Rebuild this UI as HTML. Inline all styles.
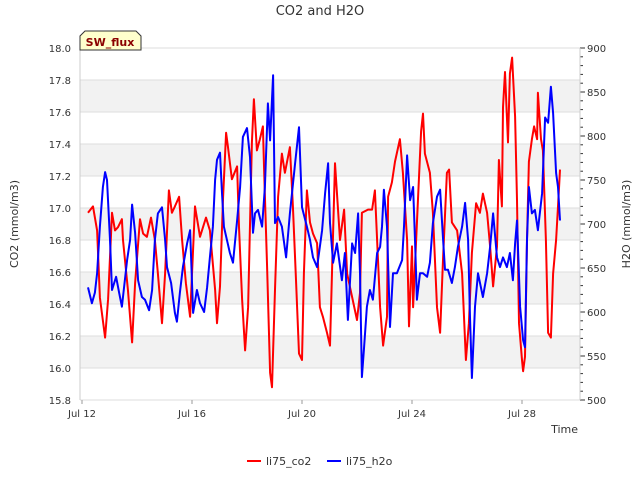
<!DOCTYPE html>
<html><head><meta charset="utf-8"><style>
body{margin:0;background:#fff;font-family:"Liberation Sans","DejaVu Sans",sans-serif;}
svg text{font-family:"DejaVu Sans","Liberation Sans",sans-serif;}
</style></head><body>
<svg id="chart" width="640" height="480" xmlns="http://www.w3.org/2000/svg">
<rect width="640" height="480" fill="#fff"/>
<text x="320" y="15" font-size="13" text-anchor="middle" fill="#333">CO2 and H2O</text>
<g id="bands"></g><g id="grid"></g><g id="axes"></g>
<g id="series" clip-path="url(#clip)"></g>
<defs><clipPath id="clip"><rect x="80" y="48" width="500" height="352"/></clipPath></defs>
<g>
<path d="M80,50 L80,36 L85,31 L136,31 L141,36 L141,50 Z" fill="#ffffcc" stroke="#333" stroke-width="1"/>
<text x="110" y="46" font-size="11" font-weight="bold" text-anchor="middle" fill="#8b0000">SW_flux</text>
</g>
<text transform="translate(18,224) rotate(-90)" font-size="11" text-anchor="middle" fill="#333">CO2 (mmol/m3)</text>
<text transform="translate(630,224) rotate(-90)" font-size="11" text-anchor="middle" fill="#333">H2O (mmol/m3)</text>
<text x="578" y="433" font-size="11" text-anchor="end" fill="#333">Time</text>
<g><line x1="247" y1="461" x2="261" y2="461" stroke="#f00" stroke-width="2"/><text x="266" y="465" font-size="11" fill="#333">li75_co2</text></g>
<g><line x1="327" y1="461" x2="341" y2="461" stroke="#00f" stroke-width="2"/><text x="346" y="465" font-size="11" fill="#333">li75_h2o</text></g>
</svg>
<script>
const xTickLabels=["Jul 12","Jul 16","Jul 20","Jul 24","Jul 28"];
const xTickDays=[0,4,8,12,16];
const leftTicks=[15.8,16.0,16.2,16.4,16.6,16.8,17.0,17.2,17.4,17.6,17.8,18.0];
const rightTicks=[500,550,600,650,700,750,800,850,900];
const co2Days=[0.22,0.40,0.55,0.65,0.84,0.95,1.09,1.20,1.31,1.45,1.49,1.67,1.82,1.93,2.11,2.22,2.36,2.51,2.65,2.76,2.91,3.02,3.16,3.27,3.38,3.53,3.64,3.78,3.93,4.11,4.29,4.51,4.65,4.84,4.91,5.02,5.13,5.24,5.31,5.45,5.64,5.71,5.82,5.93,6.04,6.18,6.25,6.36,6.47,6.58,6.62,6.73,6.84,6.91,7.02,7.13,7.27,7.38,7.56,7.67,7.78,7.89,8.00,8.07,8.18,8.29,8.40,8.55,8.65,8.76,8.91,9.02,9.20,9.38,9.53,9.64,10.00,10.11,10.18,10.40,10.55,10.65,10.84,10.95,11.09,11.13,11.27,11.38,11.56,11.67,11.82,11.89,12.00,12.04,12.22,12.33,12.40,12.47,12.65,12.76,12.91,13.02,13.13,13.27,13.35,13.45,13.64,13.82,13.96,14.07,14.18,14.33,14.47,14.58,14.73,14.84,14.95,15.09,15.16,15.27,15.31,15.38,15.45,15.49,15.56,15.64,15.75,15.82,15.89,16.00,16.04,16.11,16.18,16.25,16.36,16.44,16.55,16.58,16.69,16.76,16.87,16.95,17.05,17.13,17.24,17.31,17.38];
const co2Values=[16.97,17.01,16.86,16.44,16.19,16.43,16.97,16.86,16.88,16.93,16.80,16.49,16.16,16.53,16.93,16.84,16.82,16.94,16.80,16.59,16.28,16.59,17.11,16.97,17.01,17.07,16.80,16.53,16.32,17.01,16.82,16.94,16.86,16.49,16.28,16.51,17.07,17.47,17.38,17.18,17.26,16.88,16.43,16.11,16.38,17.41,17.68,17.36,17.43,17.51,17.24,16.63,15.97,15.88,16.49,17.07,17.34,17.22,17.38,17.01,16.55,16.09,16.05,16.59,17.11,16.91,16.84,16.78,16.38,16.32,16.22,16.14,17.28,16.80,16.99,16.59,16.30,16.47,16.97,16.99,16.99,17.11,16.38,16.14,16.32,17.07,17.16,17.29,17.43,17.22,16.80,16.26,16.76,16.38,17.07,17.48,17.59,17.34,17.22,16.97,16.38,16.22,16.69,17.22,17.24,16.91,16.86,16.59,16.05,16.28,16.72,17.03,16.97,17.09,16.97,16.76,16.51,16.76,17.30,17.01,17.63,17.85,17.57,17.41,17.84,17.94,17.57,17.05,16.28,16.05,15.98,16.07,16.80,17.29,17.43,17.51,17.43,17.72,17.43,17.36,16.80,16.22,16.19,16.59,16.80,17.01,17.24];
const h2oDays=[0.22,0.36,0.47,0.55,0.65,0.76,0.84,0.91,1.02,1.09,1.24,1.35,1.45,1.64,1.75,1.82,1.93,2.04,2.18,2.29,2.44,2.55,2.65,2.76,2.91,3.02,3.09,3.24,3.38,3.45,3.56,3.67,3.82,3.93,4.04,4.18,4.29,4.44,4.55,4.65,4.76,4.84,4.91,5.02,5.09,5.16,5.27,5.38,5.49,5.64,5.75,5.85,6.00,6.11,6.22,6.29,6.40,6.55,6.65,6.76,6.84,6.95,7.02,7.13,7.27,7.42,7.56,7.75,7.89,8.00,8.18,8.29,8.40,8.55,8.73,8.84,8.95,9.02,9.13,9.27,9.45,9.56,9.67,9.82,9.93,10.04,10.11,10.18,10.25,10.36,10.47,10.58,10.73,10.84,10.91,10.98,11.09,11.20,11.31,11.45,11.64,11.71,11.82,11.93,12.04,12.11,12.18,12.29,12.40,12.55,12.65,12.76,12.91,13.02,13.13,13.20,13.31,13.45,13.56,13.67,13.82,13.93,14.04,14.11,14.18,14.29,14.40,14.58,14.73,14.84,14.95,15.09,15.20,15.31,15.45,15.56,15.67,15.75,15.82,15.93,16.04,16.11,16.18,16.25,16.36,16.47,16.58,16.73,16.84,16.95,17.05,17.13,17.24,17.31,17.38];
const h2oValues=[628,610,622,644,697,742,759,750,682,625,640,622,606,659,682,722,690,636,617,614,602,625,682,712,719,682,651,633,599,589,622,651,678,693,599,625,610,600,628,662,697,750,773,781,735,697,682,667,656,704,742,799,809,776,690,712,716,697,742,837,795,869,701,708,697,662,712,769,810,719,697,682,662,651,693,735,769,701,656,678,636,667,591,678,667,712,644,526,557,606,625,614,667,674,697,739,697,583,644,644,659,697,778,727,742,682,614,644,644,640,656,701,731,739,682,648,648,633,651,674,697,724,682,594,525,606,644,617,644,674,712,662,651,662,651,667,636,678,704,606,568,560,682,742,712,716,693,735,821,815,856,826,758,742,704];

const NS="http://www.w3.org/2000/svg";
const X0=80,X1=580,Y0=48,Y1=400;
const xScale=d=>82+d*27.5;
const yL=v=>Y1-(v-15.8)/(18.0-15.8)*(Y1-Y0);
const yR=v=>Y1-(v-500)/(900-500)*(Y1-Y0);
function mk(tag,attrs,parent){const e=document.createElementNS(NS,tag);for(const k in attrs)e.setAttribute(k,attrs[k]);parent.appendChild(e);return e;}
const bands=document.getElementById('bands'),grid=document.getElementById('grid'),axes=document.getElementById('axes'),series=document.getElementById('series');
mk('rect',{x:X0,y:Y0,width:X1-X0,height:Y1-Y0,fill:'#fff'},bands);
for(let i=0;i<leftTicks.length-1;i++){
  if(i%2===1){const r=mk('rect',{x:X0,y:yL(leftTicks[i+1]),width:X1-X0,height:yL(leftTicks[i])-yL(leftTicks[i+1]),fill:'#f2f2f2'},bands);
  
  }
}
leftTicks.forEach(v=>{
  const l=mk('line',{x1:X0,x2:X1,y1:yL(v),y2:yL(v),stroke:'#ddd','stroke-width':1},grid);
  
  
  const t=mk('text',{x:71,y:yL(v)+4,'font-size':10,'text-anchor':'end',fill:'#333'},axes);
  t.textContent=v.toFixed(1);
  
  
});
rightTicks.forEach(v=>{
  const t=mk('text',{x:587,y:yR(v)+4,'font-size':10,'text-anchor':'start',fill:'#333'},axes);
  t.textContent=v;
  
  
});
for(let v=500;v<=900;v+=10){mk('line',{x1:X1,x2:X1+(v%50===0?5:3),y1:yR(v),y2:yR(v),stroke:'#333','stroke-width':1},axes);}
xTickDays.forEach((d,i)=>{
  mk('line',{x1:xScale(d),x2:xScale(d),y1:Y1,y2:Y1+4,stroke:'#999'},axes);
  const t=mk('text',{x:xScale(d),y:417,'font-size':10,'text-anchor':'middle',fill:'#333'},axes);
  t.textContent=xTickLabels[i];
  
  
});
mk('line',{x1:X0,x2:X0,y1:Y0,y2:Y1,stroke:'#ccc'},axes);
mk('line',{x1:X1,x2:X1,y1:Y0,y2:Y1,stroke:'#ccc'},axes);
const pr=co2Days.map((d,i)=>xScale(d).toFixed(1)+','+yL(co2Values[i]).toFixed(1)).join(' ');
const co2Line=mk('polyline',{points:pr,fill:'none',stroke:'#f00','stroke-width':2,'stroke-linejoin':'round'},series);


const pb=h2oDays.map((d,i)=>xScale(d).toFixed(1)+','+yR(h2oValues[i]).toFixed(1)).join(' ');
const h2oLine=mk('polyline',{points:pb,fill:'none',stroke:'#00f','stroke-width':2,'stroke-linejoin':'round'},series);


</script>
</body></html>
